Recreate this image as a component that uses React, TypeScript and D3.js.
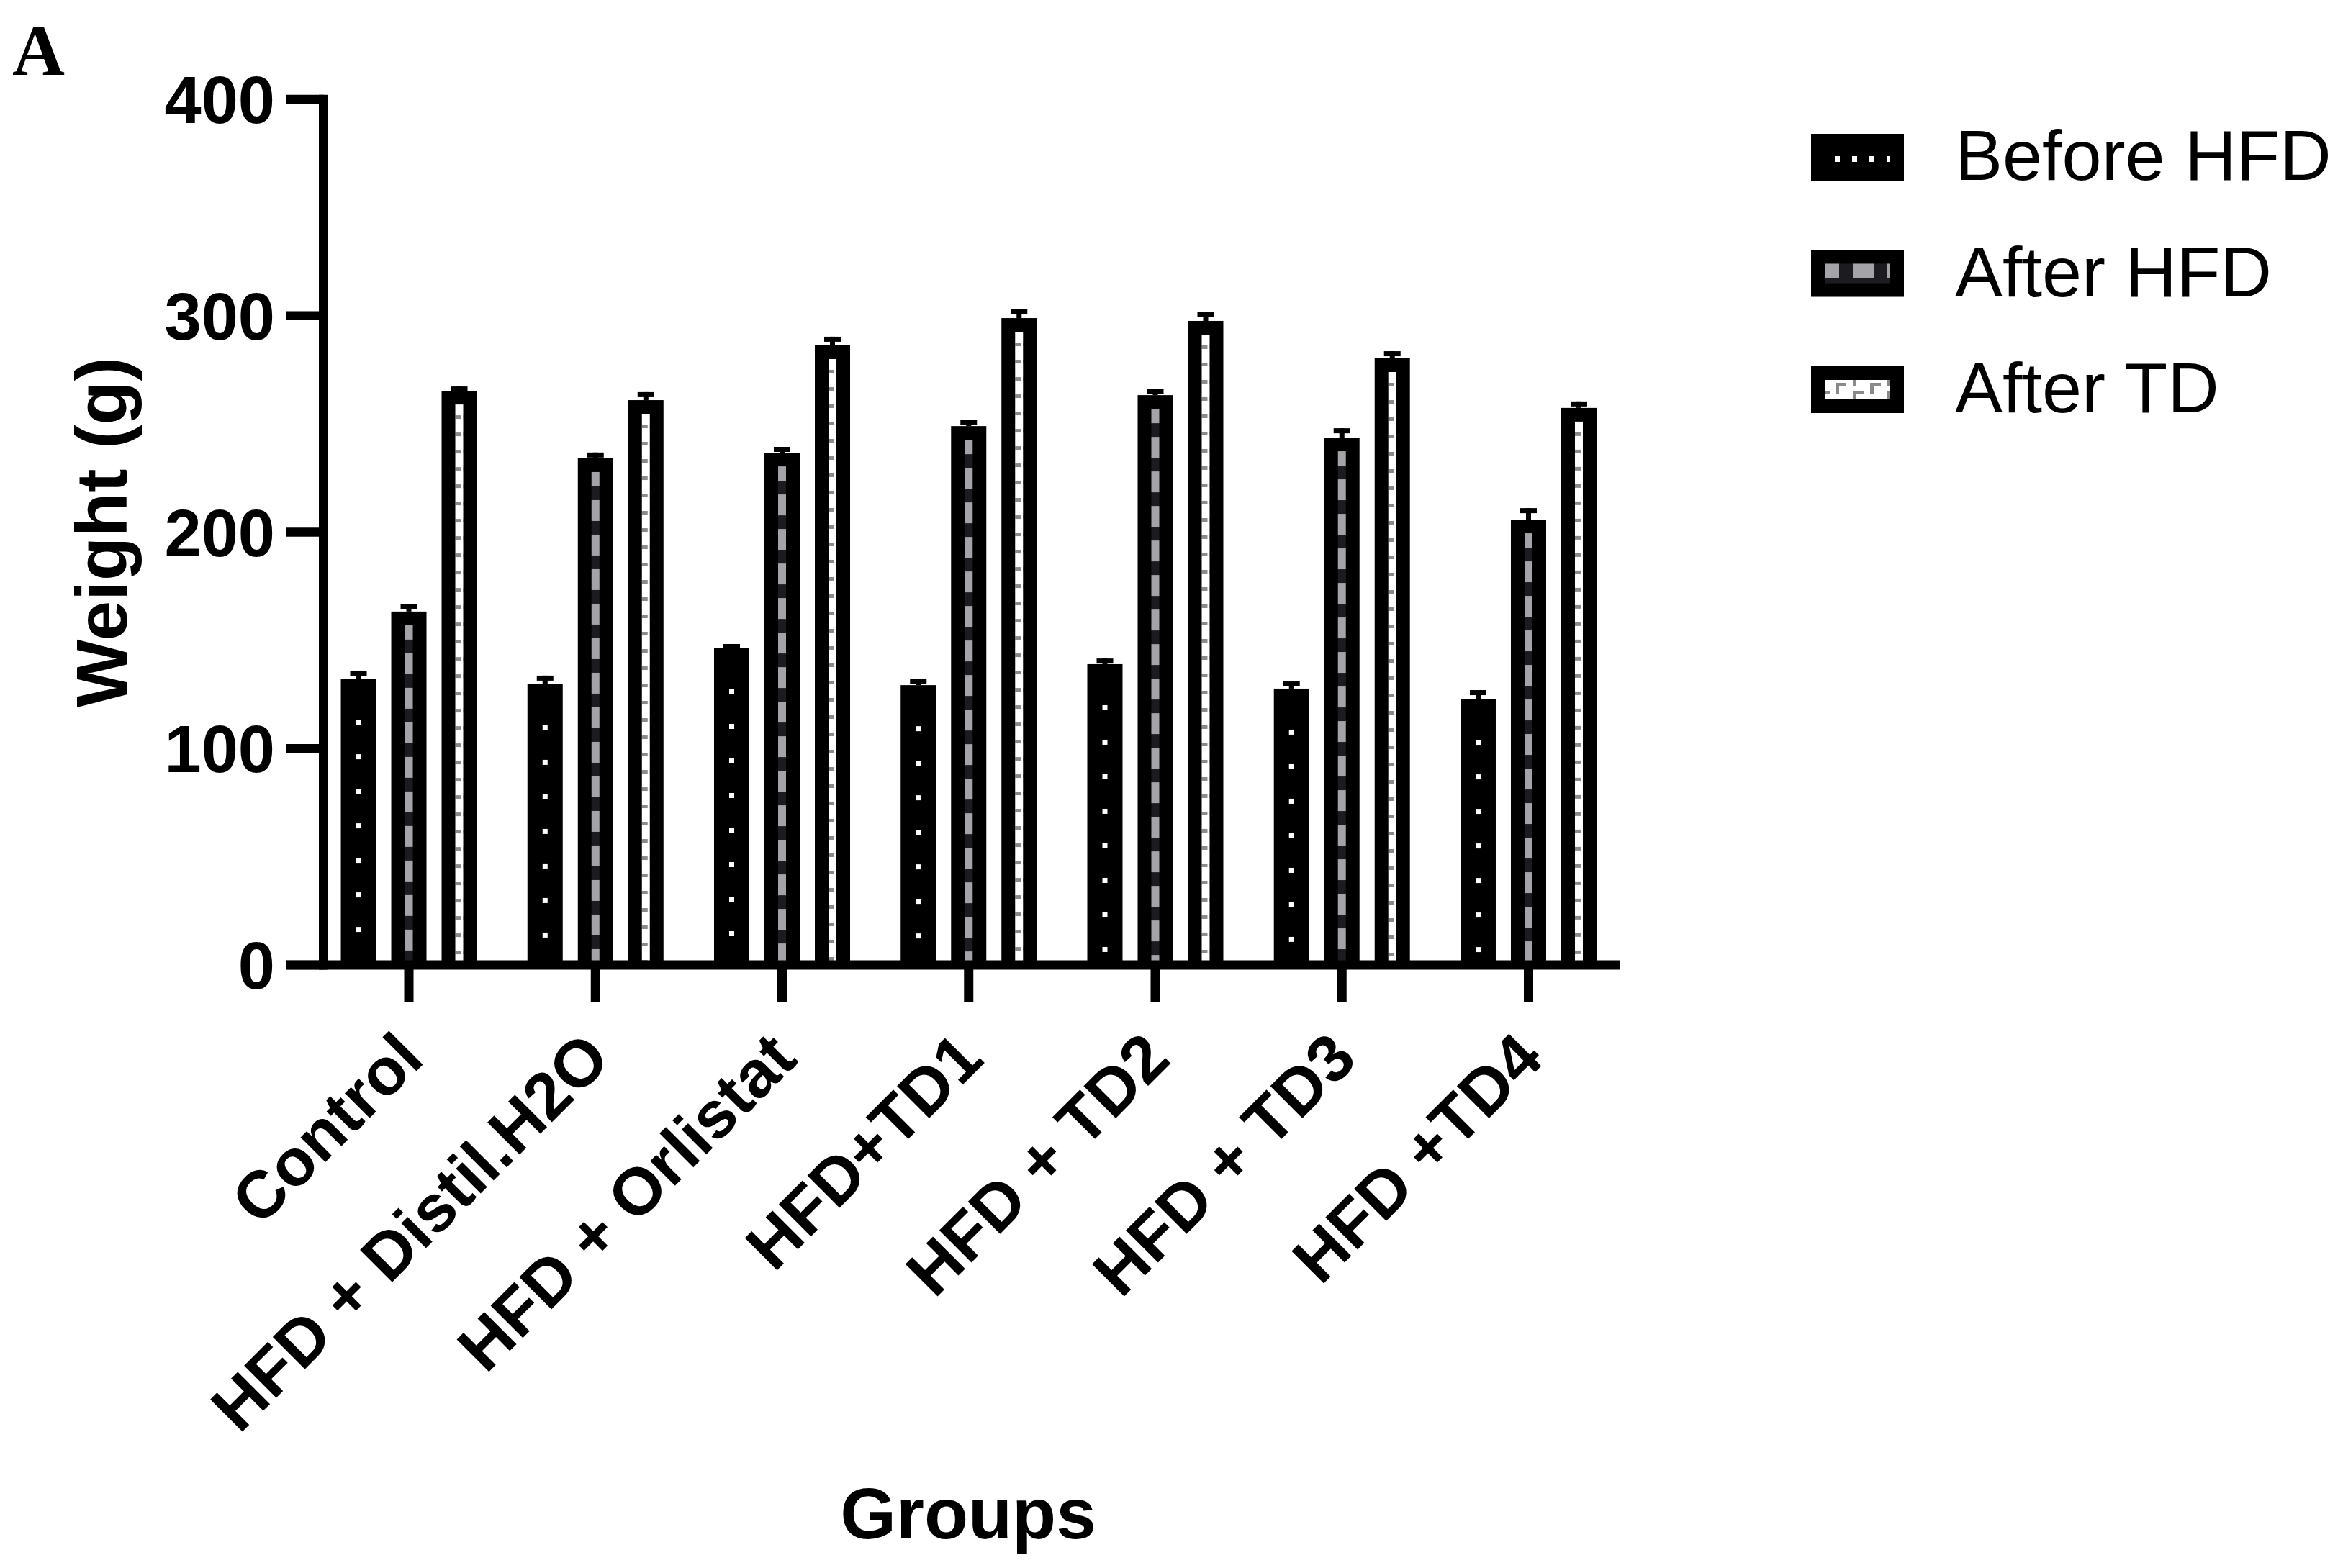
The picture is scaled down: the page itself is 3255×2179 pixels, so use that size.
import React from 'react';
import * as d3 from 'd3';

const groups = ["Control", "HFD + Distil.H2O", "HFD + Orlistat", "HFD+TD1", "HFD + TD2", "HFD + TD3", "HFD +TD4"];
const series = ["Before HFD", "After HFD", "After TD"];
const beforeHFD = [132.3, 129.7, 146.3, 129.3, 139.0, 127.7, 123.0];
const beforeHFDErr = [3.7, 4.0, 2.0, 2.7, 2.6, 3.5, 4.0];
const afterHFD = [163.3, 234.1, 236.7, 249.0, 263.3, 243.7, 205.8];
const afterHFDErr = [3.3, 2.7, 2.7, 3.0, 3.0, 4.3, 5.3];
const afterTD = [265.3, 261.0, 286.3, 298.9, 297.6, 280.3, 257.4];
const afterTDErr = [2.0, 3.7, 4.0, 4.3, 4.0, 3.3, 3.0];
const yTicks = [0, 100, 200, 300, 400];

const W = 3255;
const H = 2179;
const SANS = "'Liberation Sans', Arial, Helvetica, sans-serif";
const SERIF = "'Liberation Serif', 'Times New Roman', serif";
const DARK = "#1c1b20";
const GRAY = "#a4a3a8";
const DASH = "#8a8a8a";
const BORDER = 19;

export default function App() {
  const y = d3.scaleLinear().domain([0, 400]).range([1341, 138]);
  const x0 = d3.scaleBand<string>().domain(groups).range([438.4, 2253.1]).padding(0);
  const x1 = d3.scaleBand<string>().domain(series).range([-94.5, 94.5]).paddingInner(0.3).paddingOuter(0);
  const bw = x1.bandwidth();
  const values = [beforeHFD, afterHFD, afterTD];
  const errs = [beforeHFDErr, afterHFDErr, afterTDErr];
  const axisX = 449.5;
  const y0 = y(0);

  const bars: any[] = [];
  groups.forEach((g, gi) => {
    const cx = (x0(g) as number) + x0.bandwidth() / 2;
    series.forEach((s, si) => {
      const v = values[si][gi];
      const e = errs[si][gi];
      const bx = cx + (x1(s) as number);
      bars.push({ g, gi, s, si, v, e, bx, top: y(v), errTop: y(v + e), cx: bx + bw / 2 });
    });
  });

  const legendTop = d3.scaleLinear().domain([0, 2]).range([186, 509]);

  return (
    <svg width={W} height={H} style={{ position: 'absolute', left: 0, top: 0, background: '#fff' }}>
      <rect x={0} y={0} width={W} height={H} fill="#fff" />
      <defs>
        {bars.map((b, i) => {
          const ix = b.bx + BORDER;
          const iy = b.top + BORDER;
          const iw = bw - 2 * BORDER;
          if (b.si === 0) {
            return (
              <pattern key={i} id={`pat${i}`} patternUnits="userSpaceOnUse" x={ix} y={iy} width={iw} height={48}>
                <rect x={0} y={0} width={iw} height={48} fill="#000" />
                <rect x={(iw - 7) / 2} y={38} width={7} height={7} fill="#fff" />
              </pattern>
            );
          } else if (b.si === 1) {
            return (
              <pattern key={i} id={`pat${i}`} patternUnits="userSpaceOnUse" x={ix} y={iy} width={iw} height={48}>
                <rect x={0} y={0} width={iw} height={48} fill={GRAY} />
                <rect x={0} y={20} width={iw} height={19} fill={DARK} />
              </pattern>
            );
          }
          return (
            <pattern key={i} id={`pat${i}`} patternUnits="userSpaceOnUse" x={ix} y={iy} width={iw} height={24}>
              <rect x={0} y={0} width={iw} height={24} fill="#fff" />
              <rect x={0} y={15} width={8} height={5} fill={DASH} />
            </pattern>
          );
        })}
      </defs>

      {/* Panel letter */}
      <text x={17} y={104} fontFamily={SERIF} fontWeight="bold" fontSize={101} fill="#000">A</text>

      {/* Bars */}
      {bars.map((b, i) => (
        <g key={i}>
          <rect x={b.bx + bw / 2 - 3.5} y={b.errTop} width={7} height={b.top - b.errTop} fill="#000" />
          <rect x={b.bx + bw / 2 - 11.5} y={b.errTop} width={23} height={7} fill="#000" />
          <rect x={b.bx} y={b.top} width={bw} height={y0 - b.top} fill="#000" />
          <rect x={b.bx + BORDER} y={b.top + BORDER} width={bw - 2 * BORDER} height={y0 - b.top - BORDER} fill={`url(#pat${i})`} />
        </g>
      ))}

      {/* Y axis */}
      <line x1={axisX} x2={axisX} y1={y(400) - 6.3} y2={y0 + 6.5} stroke="#000" strokeWidth={13} />
      {yTicks.map((t) => (
        <g key={t}>
          <line x1={398} x2={axisX} y1={y(t)} y2={y(t)} stroke="#000" strokeWidth={12.5} />
          <text x={382} y={y(t)} dy={33} textAnchor="end" fontFamily={SANS} fontWeight="bold" fontSize={92} fill="#000">{t}</text>
        </g>
      ))}

      {/* X axis */}
      <line x1={398} x2={2251} y1={y0} y2={y0} stroke="#000" strokeWidth={13} />
      {groups.map((g) => {
        const cx = (x0(g) as number) + x0.bandwidth() / 2;
        return (
          <g key={g}>
            <line x1={cx} x2={cx} y1={y0} y2={y0 + 52} stroke="#000" strokeWidth={13} />
            <text transform={`translate(${cx + 24},${y0 + 134}) rotate(-45)`} textAnchor="end" fontFamily={SANS} fontWeight="bold" fontSize={92} fill="#000">{g}</text>
          </g>
        );
      })}

      {/* Axis titles */}
      <text transform={`translate(176,${y(200)}) rotate(-90)`} textAnchor="middle" fontFamily={SANS} fontWeight="bold" fontSize={100} fill="#000">Weight (g)</text>
      <text x={1345} y={2138} textAnchor="middle" fontFamily={SANS} fontWeight="bold" fontSize={100} fill="#000">Groups</text>

      {/* Legend */}
      {series.map((s, si) => {
        const ty = legendTop(si);
        const lx = 2516;
        const ix = lx + BORDER;
        const iy = ty + BORDER;
        const iw = 91;
        const ih = 27;
        const inner: any[] = [];
        if (si === 0) {
          d3.range(14, iw, 24).forEach((dx, k) => {
            inner.push(<rect key={k} x={ix + dx} y={ty + 31} width={Math.min(7, iw - dx)} height={8} fill="#fff" />);
          });
        } else if (si === 1) {
          inner.push(<rect key="bg" x={ix} y={iy} width={iw} height={ih} fill={DARK} />);
          d3.range(-9, iw, 48).forEach((dx, k) => {
            const a = Math.max(0, dx);
            const b2 = Math.min(iw, dx + 29);
            inner.push(<rect key={k} x={ix + a} y={iy} width={b2 - a} height={20} fill={GRAY} />);
          });
        } else {
          inner.push(<rect key="bg" x={ix} y={iy} width={iw} height={ih} fill="#fff" />);
          const parts = [
            [15, 4, 5, 16], [20, 4, 10, 5], [39, 0, 5, 9], [39, 16, 5, 11], [44, 16, 11, 4],
          ];
          d3.range(-48, iw, 48).forEach((off, k) => {
            parts.forEach((p, j) => {
              const a = Math.max(0, off + p[0]);
              const b2 = Math.min(iw, off + p[0] + p[2]);
              if (b2 > a) inner.push(<rect key={`${k}-${j}`} x={ix + a} y={iy + p[1]} width={b2 - a} height={p[3]} fill={DASH} />);
            });
          });
        }
        return (
          <g key={s}>
            <rect x={lx} y={ty} width={129} height={65} fill="#000" />
            {inner}
            <text x={2716} y={ty + 64} fontFamily={SANS} fontSize={99} fill="#000">{s}</text>
          </g>
        );
      })}
    </svg>
  );
}
